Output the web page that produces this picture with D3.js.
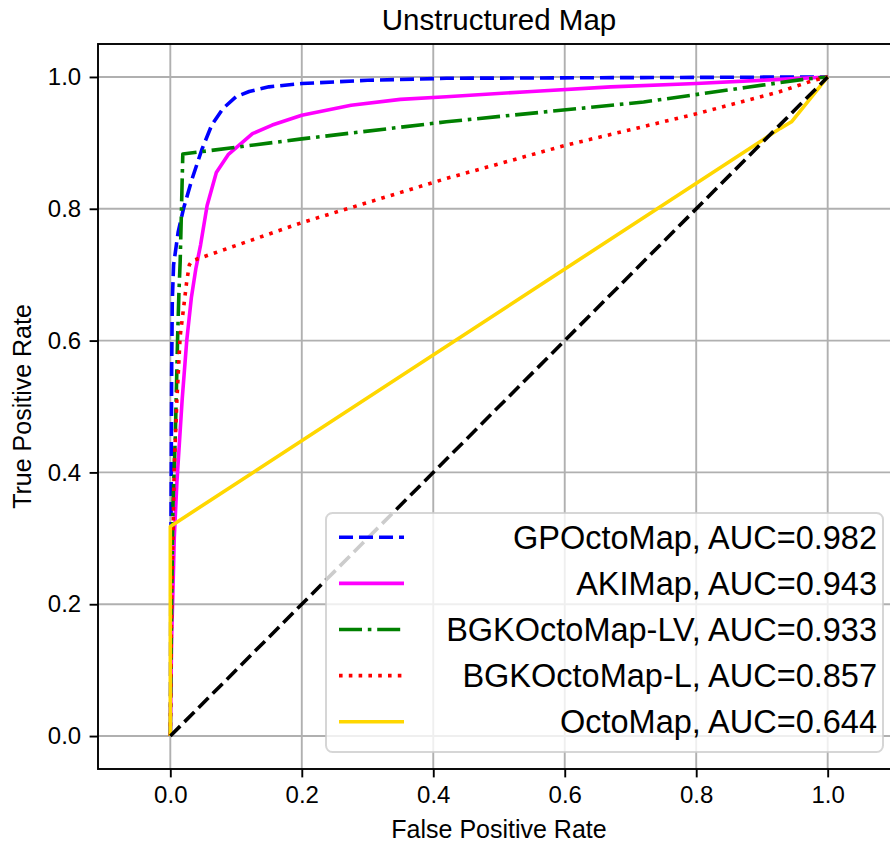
<!DOCTYPE html>
<html>
<head>
<meta charset="utf-8">
<script src="https://cdn.jsdelivr.net/npm/d3@7"></script>
<style>
  html, body { margin: 0; padding: 0; background: #ffffff; }
  svg { display: block; }
  text { font-family: "Liberation Sans", Arial, Helvetica, sans-serif; fill: #000; }
</style>
</head>
<body>
<svg id="chart" width="890" height="844"></svg>
<script>
// ROC curves, each point is [false positive rate, true positive rate]
const gpOctoMap = [[0,0],[0.001,0.3],[0.002,0.55],[0.003,0.66],[0.005,0.715],[0.012,0.765],[0.02,0.8],[0.033,0.845],[0.048,0.89],[0.063,0.927],[0.08,0.952],[0.1,0.97],[0.12,0.978],[0.15,0.985],[0.2,0.99],[0.3,0.995],[0.42,0.998],[0.7,0.999],[1,1]];
const akiMap = [[0,0],[0.002,0.15],[0.004,0.22],[0.006,0.3],[0.010,0.385],[0.018,0.51],[0.025,0.6],[0.032,0.665],[0.039,0.71],[0.046,0.745],[0.056,0.805],[0.07,0.855],[0.088,0.882],[0.125,0.914],[0.155,0.927],[0.2,0.942],[0.275,0.957],[0.35,0.966],[0.42,0.97],[0.55,0.978],[0.67,0.985],[0.8,0.99],[0.92,0.996],[1,1]];
const bgkOctoMapLV = [[0,0],[0.002,0.2],[0.004,0.35],[0.0076,0.455],[0.011,0.6],[0.013,0.67],[0.015,0.72],[0.017,0.8],[0.019,0.883],[0.2,0.906],[0.42,0.932],[0.72,0.962],[0.875,0.984],[0.968,0.997],[1,1]];
const bgkOctoMapL = [[0,0],[0.002,0.2],[0.004,0.3],[0.006,0.41],[0.010,0.51],[0.015,0.607],[0.020,0.648],[0.025,0.69],[0.029,0.715],[0.033,0.721],[0.2,0.779],[0.42,0.846],[0.6,0.896],[0.8,0.944],[0.925,0.977],[0.976,0.994],[1,1]];
const octoMap = [[0,0],[0,0.318],[0.928,0.922],[0.945,0.932],[1,1]];
const chance = [[0,0],[1,1]];

const seriesNames = ["GPOctoMap", "AKIMap", "BGKOctoMap-LV", "BGKOctoMap-L", "OctoMap"];
const aucValues = [0.982, 0.943, 0.933, 0.857, 0.644];
const seriesCurves = [gpOctoMap, akiMap, bgkOctoMapLV, bgkOctoMapL, octoMap];
const seriesColors = ["#0000ff", "#ff00ff", "#008000", "#ff0000", "#ffd700"];
const seriesDashes = ["14,6", null, "23,5.8,3.6,5.8", "3.6,6.2", null];

const xTicks = [0, 0.2, 0.4, 0.6, 0.8, 1.0];
const yTicks = [0, 0.2, 0.4, 0.6, 0.8, 1.0];
const xDomain = [-0.11, 1.11];
const yDomain = [-0.05, 1.05];

const chartTitle = "Unstructured Map";
const xLabel = "False Positive Rate";
const yLabel = "True Positive Rate";

// plot area
const plot = { left: 98, top: 44, right: 900, bottom: 769 };
const svg = d3.select("#chart");
svg.append("rect").attr("width", 890).attr("height", 844).attr("fill", "#fff");

const x = d3.scaleLinear().domain(xDomain).range([plot.left, plot.right]);
const y = d3.scaleLinear().domain(yDomain).range([plot.bottom, plot.top]);

// grid
const grid = svg.append("g").attr("stroke", "#b0b0b0").attr("stroke-width", 1.9);
grid.selectAll("line.gx").data(xTicks).join("line")
  .attr("x1", d => x(d)).attr("x2", d => x(d))
  .attr("y1", plot.top).attr("y2", plot.bottom);
grid.selectAll("line.gy").data(yTicks).join("line")
  .attr("y1", d => y(d)).attr("y2", d => y(d))
  .attr("x1", plot.left).attr("x2", plot.right);

// curves
const line = d3.line().x(d => x(d[0])).y(d => y(d[1]));
const curves = svg.append("g").attr("fill", "none");
seriesCurves.forEach((pts, i) => {
  const p = curves.append("path")
    .attr("d", line(pts))
    .attr("stroke", seriesColors[i])
    .attr("stroke-width", 3.6)
    .attr("stroke-linejoin", "round");
  if (seriesDashes[i]) p.attr("stroke-dasharray", seriesDashes[i]);
});
curves.append("path")
  .attr("d", line(chance))
  .attr("stroke", "#000")
  .attr("stroke-width", 3.6)
  .attr("stroke-dasharray", "14,6");

// axes
const fmt = d3.format(".1f");
const xAxis = svg.append("g")
  .attr("transform", `translate(0,${plot.bottom})`)
  .call(d3.axisBottom(x).tickValues(xTicks).tickFormat(fmt).tickSize(8.4).tickPadding(8.4));
const yAxis = svg.append("g")
  .attr("transform", `translate(${plot.left},0)`)
  .call(d3.axisLeft(y).tickValues(yTicks).tickFormat(fmt).tickSize(8.4).tickPadding(8.4));
[xAxis, yAxis].forEach(a => {
  a.select(".domain").remove();
  a.selectAll(".tick line").attr("stroke", "#000").attr("stroke-width", 1.9);
  a.selectAll(".tick text")
    .style("font-family", "'Liberation Sans', Arial, Helvetica, sans-serif")
    .style("font-size", "24px").attr("fill", "#000");
});

// frame
svg.append("rect")
  .attr("x", plot.left).attr("y", plot.top)
  .attr("width", plot.right - plot.left).attr("height", plot.bottom - plot.top)
  .attr("fill", "none").attr("stroke", "#000").attr("stroke-width", 1.9);

// titles
svg.append("text").attr("x", x(0.5)).attr("y", 30)
  .attr("text-anchor", "middle").style("font-size", "29.5px").text(chartTitle);
svg.append("text").attr("x", x(0.5)).attr("y", 838)
  .attr("text-anchor", "middle").style("font-size", "25px").text(xLabel);
svg.append("text")
  .attr("transform", `translate(31,${(plot.top + plot.bottom) / 2}) rotate(-90)`)
  .attr("text-anchor", "middle").style("font-size", "25px").text(yLabel);

// legend
const legend = svg.append("g");
legend.append("rect")
  .attr("x", 326).attr("y", 513).attr("width", 557).attr("height", 239)
  .attr("rx", 6.4).attr("ry", 6.4)
  .attr("fill", "#fff").attr("fill-opacity", 0.8)
  .attr("stroke", "#cccccc").attr("stroke-opacity", 0.8).attr("stroke-width", 2);
const rowY = d3.scaleLinear().domain([0, seriesNames.length - 1]).range([537.3, 721.7]);
seriesNames.forEach((name, i) => {
  const yy = rowY(i);
  const h = legend.append("line")
    .attr("x1", 339).attr("x2", 404).attr("y1", yy).attr("y2", yy)
    .attr("stroke", seriesColors[i]).attr("stroke-width", 3.6);
  if (seriesDashes[i]) h.attr("stroke-dasharray", seriesDashes[i]);
  legend.append("text")
    .attr("x", 877).attr("y", yy + 11.5)
    .attr("text-anchor", "end").style("font-size", "32.5px")
    .text(`${name}, AUC=${d3.format(".3f")(aucValues[i])}`);
});
</script>
</body>
</html>
